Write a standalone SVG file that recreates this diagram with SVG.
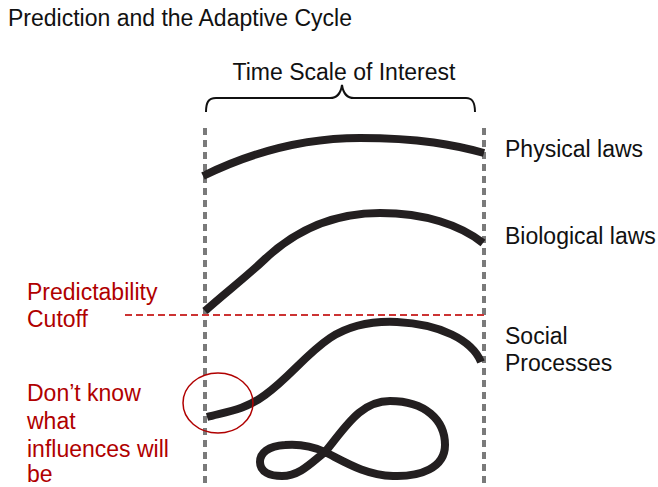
<svg xmlns="http://www.w3.org/2000/svg" width="658" height="487" viewBox="0 0 658 487">
  <style>
    .t { font-family: "Liberation Sans", Arial, sans-serif; font-size: 23px; fill: #111; }
    .r { font-family: "Liberation Sans", Arial, sans-serif; font-size: 23px; fill: #b00000; }
    .guide { stroke: #7a7a7a; stroke-width: 4; stroke-dasharray: 7 5; fill: none; }
    .cut { stroke: #cc3333; stroke-width: 2; stroke-dasharray: 7 4; fill: none; }
    .curve { stroke: #231f20; stroke-width: 8; fill: none; stroke-linecap: butt; }
  </style>
  <rect width="658" height="487" fill="#fff"/>
  <text class="t" x="8" y="26">Prediction and the Adaptive Cycle</text>

  <g id="timescale">
    <path d="M206,112 C206,103 208,98 216,98 L330,98 C338,98 341,92 342,85 C343,92 346,98 354,98 L466,98 C473,98 475,103 475,112" stroke="#111" stroke-width="2" fill="none"/>
    <text class="t" x="344" y="80" text-anchor="middle">Time Scale of Interest</text>
  </g>

  <g id="connectors">
    <line class="guide" x1="205" y1="128" x2="205" y2="487"/>
    <line class="guide" x1="484" y1="128" x2="484" y2="487"/>
    <line class="cut" x1="125" y1="315" x2="484" y2="315"/>
  </g>

  <g id="physical">
    <path class="curve" d="M203,176 C260,148 310,138 360,138 C420,138 455,145 484,153"/>
    <text class="t" x="505" y="157">Physical laws</text>
  </g>

  <g id="biological">
    <path class="curve" d="M205,311 C225,293 245,278 265,259 C300,226 340,213 380,213 C425,213 460,225 483,243"/>
    <text class="t" x="505" y="244">Biological laws</text>
  </g>

  <g id="social">
    <path class="curve" d="M207,417 C225,412 245,410 265,395 C290,377 305,355 330,338 C350,325 375,321 397,322 C440,324 472,340 481,362"/>
    <text class="t" x="505" y="344">Social</text>
    <text class="t" x="505" y="371">Processes</text>
  </g>

  <g id="unknown">
    <path class="curve" stroke-width="9" d="M325,452 C345,428 360,401 390,401 C425,401 445,420 445,445 C445,468 420,477 393,476 C365,475 345,462 325,452 C310,445 297,444 285,445 C268,446 260,453 260,462 C260,472 270,476 282,476 C300,476 312,462 325,452 Z"/>
  </g>

  <g id="cutoff-label">
    <text class="r" x="27" y="300">Predictability</text>
    <text class="r" x="27" y="327">Cutoff</text>
  </g>

  <g id="unknown-label">
    <ellipse cx="218" cy="403" rx="35" ry="30" fill="none" stroke="#b00000" stroke-width="1.5"/>
    <text class="r" x="27" y="401">Don’t know</text>
    <text class="r" x="27" y="429">what</text>
    <text class="r" x="27" y="457">influences will</text>
    <text class="r" x="27" y="482">be</text>
  </g>
</svg>
